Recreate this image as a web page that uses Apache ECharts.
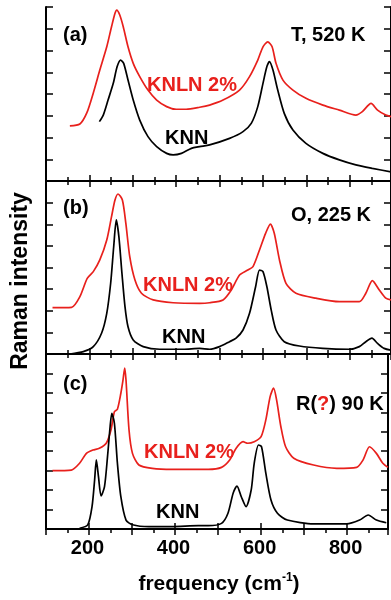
<!DOCTYPE html>
<html>
<head>
<meta charset="utf-8">
<script src="https://cdn.jsdelivr.net/npm/echarts@6/dist/echarts.min.js"></script>
<style>
html,body{margin:0;padding:0;background:#fff;}
#chart{width:391px;height:600px;}
</style>
</head>
<body>
<div id="chart"></div>
<script>
// x tick labels
const xTickLabels = [200, 400, 600, 800];
// Panel (a) T, 520 K  [frequency cm-1, intensity]
const aKNLN = [[155,2.53],[178,2.62],[194,3.13],[209,4.05],[224,5.10],[240,6.17],[251,7.09],[259,7.71],[263,7.86],[270,7.63],[278,7.09],[289,6.17],[301,5.41],[316,4.80],[335,4.18],[355,3.72],[378,3.42],[400,3.30],[423,3.30],[454,3.39],[477,3.49],[508,3.72],[546,4.18],[569,4.80],[588,5.56],[600,6.17],[611,6.40],[621,6.17],[630,5.41],[646,4.64],[669,4.18],[699,3.80],[738,3.49],[776,3.26],[814,3.03],[829,3.19],[849,3.57],[864,3.26],[883,3.03],[895,2.96]];
const aKNN = [[223,2.73],[232,3.03],[243,3.72],[255,4.49],[264,5.26],[272,5.56],[279,5.41],[289,4.64],[301,3.72],[316,2.80],[335,2.04],[355,1.58],[378,1.27],[393,1.20],[412,1.27],[435,1.50],[454,1.58],[477,1.66],[523,1.96],[554,2.27],[573,2.65],[588,3.42],[600,4.49],[609,5.26],[615,5.49],[623,5.10],[634,4.18],[649,3.11],[669,2.34],[699,1.73],[738,1.27],[776,0.97],[814,0.74],[852,0.58],[895,0.42]];
// Panel (b) O, 225 K
const bKNLN = [[115,2.14],[159,2.16],[178,2.65],[195,3.50],[209,3.81],[224,4.35],[240,5.27],[251,6.35],[259,7.12],[266,7.40],[276,7.12],[284,6.04],[293,4.50],[305,3.42],[320,2.81],[347,2.50],[393,2.37],[454,2.34],[477,2.37],[508,2.50],[527,2.96],[546,3.65],[565,3.88],[577,4.04],[592,4.81],[606,5.58],[617,6.01],[626,5.58],[638,4.35],[653,3.27],[676,2.81],[722,2.58],[776,2.42],[822,2.42],[837,2.81],[852,3.39],[868,2.96],[883,2.58],[895,2.50]];
const bKNN = [[155,0.00],[186,0.11],[209,0.34],[228,0.96],[240,1.88],[249,3.27],[256,4.96],[262,6.20],[268,5.42],[275,3.73],[282,2.19],[289,1.26],[301,0.65],[324,0.34],[362,0.22],[416,0.22],[454,0.26],[477,0.22],[500,0.34],[523,0.57],[538,0.73],[554,1.11],[569,1.88],[583,3.11],[592,3.88],[600,3.81],[609,3.11],[619,2.03],[630,1.11],[649,0.57],[684,0.37],[738,0.26],[799,0.22],[822,0.34],[837,0.57],[851,0.73],[864,0.49],[879,0.26],[895,0.18]];
// Panel (c) R(?) 90 K
const cKNLN = [[115,3.00],[159,3.03],[178,3.38],[194,3.89],[209,4.06],[224,4.15],[240,4.41],[251,5.09],[259,6.03],[266,6.16],[274,6.98],[279,7.66],[283,8.28],[286,7.66],[293,5.09],[301,3.89],[316,3.29],[347,3.12],[393,3.07],[454,3.07],[477,3.07],[508,3.17],[527,3.55],[542,4.15],[558,4.49],[569,4.41],[584,4.49],[600,4.75],[611,5.61],[621,6.81],[629,7.24],[636,6.64],[646,5.26],[657,4.23],[676,3.64],[722,3.29],[776,3.12],[822,3.17],[837,3.55],[852,4.23],[868,3.89],[883,3.38],[895,3.17]];
const cKNN = [[178,0.04],[197,0.21],[207,1.15],[213,2.52],[217,3.55],[222,2.69],[228,1.70],[236,2.18],[243,3.72],[249,5.26],[253,5.95],[259,5.44],[266,3.38],[274,1.66],[286,0.46],[301,0.22],[339,0.12],[393,0.12],[454,0.17],[477,0.17],[508,0.29],[523,0.81],[535,1.84],[544,2.21],[554,1.66],[565,1.15],[577,2.01],[584,3.38],[594,4.32],[601,4.23],[611,2.87],[623,1.49],[638,0.81],[661,0.46],[722,0.26],[799,0.26],[829,0.46],[849,0.72],[868,0.46],[891,0.32]];

const RED = '#e8201c';
const FONT = '"Liberation Sans", Arial, sans-serif';
const chart = echarts.init(document.getElementById('chart'), null, {renderer: 'canvas'});

const grids = [
  {left: 46, right: -1, top: 7, height: 174},
  {left: 46, right: -1, top: 181, height: 173},
  {left: 46, right: -1, top: 354, height: 175}
];
const yMax = [8, 8, 9];
const axLine = {show: true, lineStyle: {color: '#000', width: 2}};
const xAxes = [], yAxes = [];
for (let g = 0; g < 3; g++) {
  ['bottom', 'top'].forEach(pos => {
    const isLabelAxis = (g === 2 && pos === 'bottom');
    xAxes.push({
      type: 'value', gridIndex: g, position: pos, min: 100, max: 895, interval: 100,
      axisLine: axLine,
      axisTick: {show: true, inside: true, length: 6, lineStyle: {color: '#000', width: 1.5}},
      minorTick: {show: !isLabelAxis, splitNumber: 2, length: 4, lineStyle: {color: '#000', width: 1.5}},
      splitLine: {show: false}, minorSplitLine: {show: false},
      axisLabel: isLabelAxis ? {
        show: true, margin: 9, color: '#000', fontFamily: FONT, fontWeight: 'bold', fontSize: 20,
        padding: [0, 3, 0, 0],
        formatter: v => xTickLabels.indexOf(v) >= 0 ? String(v) : ''
      } : {show: false}
    });
  });
  ['left', 'right'].forEach(pos => {
    yAxes.push({
      type: 'value', gridIndex: g, position: pos, min: 0, max: yMax[g], interval: 1,
      axisLine: axLine,
      axisTick: {show: true, inside: true, length: 7, lineStyle: {color: '#000', width: 1.5}},
      splitLine: {show: false}, axisLabel: {show: false}
    });
  });
}
function ser(data, g, color) {
  return {
    type: 'line', data: data, xAxisIndex: g * 2, yAxisIndex: g * 2,
    showSymbol: false, smooth: 0.25, clip: true,
    lineStyle: {color: color, width: 1.7}, animation: false
  };
}
const txt = (text, x, y, fill, size, extra) => Object.assign({
  type: 'text', style: Object.assign({
    text: text, x: x, y: y, fill: fill, font: 'bold ' + size + 'px ' + FONT,
    align: 'left', verticalAlign: 'middle'
  }, extra || {})
});

chart.setOption({
  backgroundColor: '#fff',
  animation: false,
  grid: grids,
  xAxis: xAxes,
  yAxis: yAxes,
  series: [
    ser(aKNLN, 0, RED), ser(aKNN, 0, '#000'),
    ser(bKNLN, 1, RED), ser(bKNN, 1, '#000'),
    ser(cKNLN, 2, RED), ser(cKNN, 2, '#000')
  ],
  graphic: [
    txt('(a)', 63, 35, '#000', 20),
    txt('T, 520 K', 291, 35, '#000', 20),
    txt('KNLN 2%', 147, 85, RED, 20),
    txt('KNN', 165, 138, '#000', 20),
    txt('(b)', 63, 208, '#000', 20),
    txt('O, 225 K', 291, 215, '#000', 20),
    txt('KNLN 2%', 143, 285, RED, 20),
    txt('KNN', 162, 337, '#000', 20),
    txt('(c)', 63, 384, '#000', 20),
    txt('R({q|?}) 90 K', 296, 404, '#000', 20, {rich: {q: {fill: RED, font: 'bold 20px ' + FONT}}}),
    txt('KNLN 2%', 144, 452, RED, 20),
    txt('KNN', 156, 512, '#000', 20),
    txt('frequency (cm{s|-1})', 219, 584, '#000', 21, {align: 'center', rich: {s: {font: 'bold 12px ' + FONT, fill: '#000', padding: [0, 0, 12, 0]}}}),
    {type: 'text', x: 21, y: 281, rotation: Math.PI / 2,
     style: {text: 'Raman intensity', x: 0, y: 0, fill: '#000', font: 'bold 23px ' + FONT, align: 'center', verticalAlign: 'middle'}}
  ]
});
</script>
</body>
</html>
